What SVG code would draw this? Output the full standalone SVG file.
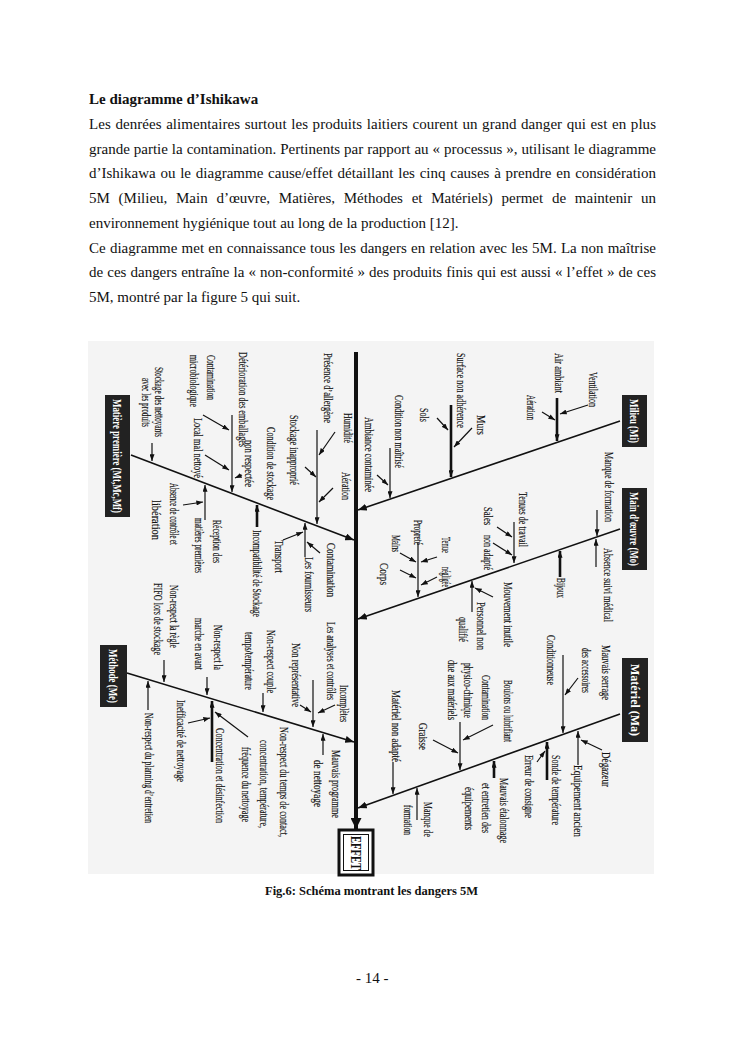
<svg xmlns="http://www.w3.org/2000/svg" width="745" height="1053" viewBox="0 0 745 1053">
<style>
.p{font-family:"Liberation Serif","Times New Roman",serif;font-size:15px;fill:#111}
.b{font-weight:bold}
.l{font-family:"Liberation Serif","Times New Roman",serif;font-size:11.5px;fill:#111;stroke:#111;stroke-width:0.15}
.bx{font-family:"Liberation Serif","Times New Roman",serif;font-size:12px;font-weight:bold;fill:#fff}
.c line,.c path{stroke:#111;fill:none}
.s{stroke-width:1.2}
.t{stroke-width:2.6}
.m{stroke-width:1.6}
</style>
<defs>
<marker id="a" viewBox="0 0 8 6" refX="8" refY="3" markerWidth="7" markerHeight="5" markerUnits="userSpaceOnUse" orient="auto"><path d="M0,0L8,3L0,6z" fill="#111"/></marker>
<marker id="A" viewBox="0 0 10 8" refX="10" refY="4" markerWidth="9" markerHeight="7" markerUnits="userSpaceOnUse" orient="auto"><path d="M0,0L10,4L0,8z" fill="#111"/></marker>
<marker id="S" viewBox="0 0 10 10" refX="10" refY="5" markerWidth="11" markerHeight="11" markerUnits="userSpaceOnUse" orient="auto"><path d="M0,0L10,5L0,10z" fill="#111"/></marker>
</defs>
<rect width="745" height="1053" fill="#fff"/>

<g id="text-body">
<text class="p b" x="89" y="104">Le diagramme d’Ishikawa</text>
<text class="p" x="89" y="128.75" word-spacing="0.78" textLength="567" lengthAdjust="spacing">Les denrées alimentaires surtout les produits laitiers courent un grand danger qui est en plus</text>
<text class="p" x="89" y="153.5" word-spacing="0.2" textLength="567" lengthAdjust="spacing">grande partie la contamination. Pertinents par rapport au « processus », utilisant le diagramme</text>
<text class="p" x="89" y="178.25" word-spacing="1" textLength="567" lengthAdjust="spacing">d’Ishikawa ou le diagramme cause/effet détaillant les cinq causes à prendre en considération</text>
<text class="p" x="89" y="203" word-spacing="5" textLength="567" lengthAdjust="spacing">5M (Milieu, Main d’œuvre, Matières, Méthodes et Matériels) permet de maintenir un</text>
<text class="p" x="89" y="227.75">environnement hygiénique tout au long de la production [12].</text>
<text class="p" x="89" y="252.5" word-spacing="0.47" textLength="567" lengthAdjust="spacing">Ce diagramme met en connaissance tous les dangers en relation avec les 5M. La non maîtrise</text>
<text class="p" x="89" y="277.25" word-spacing="0.3" textLength="567" lengthAdjust="spacing">de ces dangers entraîne la « non-conformité » des produits finis qui est aussi « l’effet » de ces</text>
<text class="p" x="89" y="302">5M, montré par la figure 5 qui suit.</text>
</g>

<rect id="figure-bg" x="88" y="341" width="566" height="533" fill="#f4f4f4"/>

<g id="connectors" class="c">
<line x1="356" y1="352" x2="356" y2="829" stroke-width="4" marker-end="url(#S)"/>
<line class="m" x1="620" y1="421" x2="358" y2="510" marker-end="url(#A)"/>
<line class="m" x1="620" y1="529" x2="358" y2="619" marker-end="url(#A)"/>
<line class="m" x1="620" y1="714" x2="358" y2="808" marker-end="url(#A)"/>
<line class="m" x1="131" y1="455" x2="354" y2="540" marker-end="url(#A)"/>
<line class="m" x1="127" y1="673" x2="354" y2="742" marker-end="url(#A)"/>
<!-- Milieu -->
<line class="t" x1="557" y1="398" x2="557" y2="441" marker-end="url(#a)"/>
<line class="t" x1="451" y1="405" x2="451" y2="477" marker-end="url(#a)"/>
<line class="s" x1="390" y1="448" x2="390" y2="498" marker-end="url(#a)"/>
<line class="s" x1="588" y1="405" x2="560" y2="414" marker-end="url(#a)"/>
<line class="s" x1="542" y1="412" x2="555" y2="420" marker-end="url(#a)"/>
<line class="s" x1="437" y1="418" x2="448" y2="430" marker-end="url(#a)"/>
<line class="s" x1="472" y1="428" x2="454" y2="447" marker-end="url(#a)"/>
<line class="s" x1="377" y1="475" x2="388" y2="485" marker-end="url(#a)"/>
<!-- Main d'oeuvre -->
<line class="s" x1="597" y1="510" x2="597" y2="536" marker-end="url(#a)"/>
<line class="s" x1="596" y1="567" x2="596" y2="539" marker-end="url(#a)"/>
<line class="t" x1="560" y1="577" x2="560" y2="551" marker-end="url(#a)"/>
<line class="s" x1="514" y1="522" x2="514" y2="563" marker-end="url(#a)"/>
<line class="s" x1="418" y1="543" x2="418" y2="597" marker-end="url(#a)"/>
<line class="s" x1="472" y1="612" x2="472" y2="581" marker-end="url(#a)"/>
<line class="s" x1="497" y1="527" x2="512" y2="537" marker-end="url(#a)"/>
<line class="s" x1="493" y1="543" x2="512" y2="555" marker-end="url(#a)"/>
<line class="s" x1="400" y1="553" x2="416" y2="562" marker-end="url(#a)"/>
<line class="s" x1="400" y1="570" x2="416" y2="578" marker-end="url(#a)"/>
<line class="s" x1="437" y1="557" x2="421" y2="562" marker-end="url(#a)"/>
<line class="s" x1="437" y1="577" x2="421" y2="585" marker-end="url(#a)"/>
<line class="s" x1="493" y1="597" x2="475" y2="588" marker-end="url(#a)"/>
<!-- Materiel -->
<line class="s" x1="563" y1="655" x2="563" y2="733" marker-end="url(#a)"/>
<line class="s" x1="460" y1="722" x2="460" y2="770" marker-end="url(#a)"/>
<line class="s" x1="393" y1="762" x2="393" y2="794" marker-end="url(#a)"/>
<line class="s" x1="417" y1="820" x2="417" y2="788" marker-end="url(#a)"/>
<line class="t" x1="494" y1="778" x2="494" y2="761" marker-end="url(#a)"/>
<line class="t" x1="547" y1="780" x2="547" y2="742" marker-end="url(#a)"/>
<line class="s" x1="578" y1="765" x2="578" y2="731" marker-end="url(#a)"/>
<line class="s" x1="578" y1="678" x2="565" y2="695" marker-end="url(#a)"/>
<line class="s" x1="493" y1="725" x2="463" y2="740" marker-end="url(#a)"/>
<line class="s" x1="433" y1="740" x2="458" y2="753" marker-end="url(#a)"/>
<line class="s" x1="537" y1="762" x2="545" y2="751" marker-end="url(#a)"/>
<line class="s" x1="602" y1="750" x2="581" y2="740" marker-end="url(#a)"/>
<!-- Matiere premiere -->
<line class="s" x1="232" y1="415" x2="232" y2="492" marker-end="url(#a)"/>
<line class="s" x1="152" y1="443" x2="152" y2="461" marker-end="url(#a)"/>
<line class="s" x1="317" y1="430" x2="317" y2="524" marker-end="url(#a)"/>
<line class="s" x1="205" y1="520" x2="205" y2="485" marker-end="url(#a)"/>
<line class="t" x1="257" y1="527" x2="257" y2="505" marker-end="url(#a)"/>
<line class="s" x1="305" y1="557" x2="305" y2="523" marker-end="url(#a)"/>
<line class="s" x1="203" y1="415" x2="229" y2="430" marker-end="url(#a)"/>
<line class="s" x1="205" y1="455" x2="229" y2="470" marker-end="url(#a)"/>
<line class="s" x1="242" y1="475" x2="235" y2="478" marker-end="url(#a)"/>
<line class="s" x1="335" y1="432" x2="319" y2="455" marker-end="url(#a)"/>
<line class="s" x1="333" y1="488" x2="319" y2="502" marker-end="url(#a)"/>
<line class="s" x1="305" y1="467" x2="316" y2="477" marker-end="url(#a)"/>
<line class="s" x1="183" y1="505" x2="203" y2="502" marker-end="url(#a)"/>
<line class="s" x1="283" y1="540" x2="303" y2="532" marker-end="url(#a)"/>
<line class="s" x1="320" y1="553" x2="307" y2="542" marker-end="url(#a)"/>
<!-- Methode -->
<line class="s" x1="263" y1="693" x2="263" y2="712" marker-end="url(#a)"/>
<line class="s" x1="207" y1="677" x2="207" y2="695" marker-end="url(#a)"/>
<line class="s" x1="164" y1="660" x2="164" y2="682" marker-end="url(#a)"/>
<line class="s" x1="313" y1="680" x2="313" y2="727" marker-end="url(#a)"/>
<line class="s" x1="148" y1="710" x2="148" y2="681" marker-end="url(#a)"/>
<line class="t" x1="212" y1="762" x2="212" y2="701" marker-end="url(#a)"/>
<line class="s" x1="323" y1="755" x2="323" y2="734" marker-end="url(#a)"/>
<line class="s" x1="335" y1="705" x2="318" y2="713" marker-end="url(#a)"/>
<line class="s" x1="300" y1="705" x2="311" y2="712" marker-end="url(#a)"/>
<line class="s" x1="188" y1="723" x2="210" y2="718" marker-end="url(#a)"/>
<line class="s" x1="248" y1="737" x2="215" y2="712" marker-end="url(#a)"/>
</g>

<g id="effet">
<rect x="339" y="830" width="34" height="45" fill="#fff" stroke="#111" stroke-width="3"/>
<rect x="343.5" y="834.5" width="25" height="36" fill="none" stroke="#111" stroke-width="1"/>
<text class="p b" transform="translate(351,836) rotate(90)" textLength="34" lengthAdjust="spacingAndGlyphs">EFFET</text>
</g>

<g id="cat-milieu"><rect x="622" y="395" width="25" height="52" fill="#222"/><text class="bx" transform="translate(630,399) rotate(90)" textLength="44" lengthAdjust="spacingAndGlyphs">Milieu (Mi)</text></g>
<g id="cat-main-oeuvre"><rect x="622" y="488" width="25" height="82" fill="#222"/><text class="bx" transform="translate(630,492) rotate(90)" textLength="74" lengthAdjust="spacingAndGlyphs">Main d’œuvre (Mo)</text></g>
<g id="cat-materiel"><rect x="622" y="658" width="26" height="84" fill="#222"/><text class="bx" transform="translate(630.5,664) rotate(90)" textLength="72" lengthAdjust="spacingAndGlyphs">Matériel (Ma)</text></g>
<g id="cat-matiere"><rect x="105" y="395" width="25" height="122" fill="#222"/><text class="bx" transform="translate(113,399) rotate(90)" textLength="114" lengthAdjust="spacingAndGlyphs">Matière première (Mt,Mc,Mf)</text></g>
<g id="cat-methode"><rect x="100" y="645" width="27" height="62" fill="#222"/><text class="bx" transform="translate(109,649) rotate(90)" textLength="54" lengthAdjust="spacingAndGlyphs">Méthode (Me)</text></g>

<g id="causes-milieu">
<g id="mi-ventilation"><text class="l" transform="translate(588.5,372) rotate(90)" textLength="35" lengthAdjust="spacingAndGlyphs">Ventilation</text></g>
<g id="mi-air"><text class="l" transform="translate(554.5,353) rotate(90)" textLength="40" lengthAdjust="spacingAndGlyphs">Air ambiant</text></g>
<g id="mi-aeration"><text class="l" transform="translate(526.5,395) rotate(90)" textLength="25" lengthAdjust="spacingAndGlyphs">Aération</text></g>
<g id="mi-surface"><text class="l" transform="translate(456.5,353) rotate(90)" textLength="75" lengthAdjust="spacingAndGlyphs">Surface non adhérence</text></g>
<g id="mi-sols"><text class="l" transform="translate(419.5,408) rotate(90)" textLength="14" lengthAdjust="spacingAndGlyphs">Sols</text></g>
<g id="mi-murs"><text class="l" transform="translate(476.5,415) rotate(90)" textLength="20" lengthAdjust="spacingAndGlyphs">Murs</text></g>
<g id="mi-condition"><text class="l" transform="translate(394.5,395) rotate(90)" textLength="73" lengthAdjust="spacingAndGlyphs">Condition non maîtrisé</text></g>
<g id="mi-ambiance"><text class="l" transform="translate(364.5,417) rotate(90)" textLength="75" lengthAdjust="spacingAndGlyphs">Ambiance contaminée</text></g>
</g>

<g id="causes-main-oeuvre">
<g id="mo-formation"><text class="l" transform="translate(604.5,452) rotate(90)" textLength="70" lengthAdjust="spacingAndGlyphs">Manque de formation</text></g>
<g id="mo-medical"><text class="l" transform="translate(603.5,548) rotate(90)" textLength="74" lengthAdjust="spacingAndGlyphs">Absence suivi médical</text></g>
<g id="mo-bijoux"><text class="l" transform="translate(556.5,578) rotate(90)" textLength="20" lengthAdjust="spacingAndGlyphs">Bijoux</text></g>
<g id="mo-tenues"><text class="l" transform="translate(518.5,492) rotate(90)" textLength="55" lengthAdjust="spacingAndGlyphs">Tenues de travail</text></g>
<g id="mo-sales"><text class="l" transform="translate(483.5,507) rotate(90)" textLength="18" lengthAdjust="spacingAndGlyphs">Sales</text></g>
<g id="mo-nonadapte"><text class="l" transform="translate(483.5,535) rotate(90)" textLength="35" lengthAdjust="spacingAndGlyphs">non adapté</text></g>
<g id="mo-proprete"><text class="l" transform="translate(413.5,520) rotate(90)" textLength="25" lengthAdjust="spacingAndGlyphs">Propreté</text></g>
<g id="mo-mains"><text class="l" transform="translate(391.5,535) rotate(90)" textLength="17" lengthAdjust="spacingAndGlyphs">Mains</text></g>
<g id="mo-corps"><text class="l" transform="translate(379.5,563) rotate(90)" textLength="22" lengthAdjust="spacingAndGlyphs">Corps</text></g>
<g id="mo-tenue"><text class="l" transform="translate(441.5,537) rotate(90)" textLength="16" lengthAdjust="spacingAndGlyphs">Tenue</text></g>
<g id="mo-negligee"><text class="l" transform="translate(441.5,567) rotate(90)" textLength="20" lengthAdjust="spacingAndGlyphs">négligée</text></g>
<g id="mo-personnel"><text class="l" transform="translate(476.5,602) rotate(90)" textLength="48" lengthAdjust="spacingAndGlyphs">Personnel non</text><text class="l" transform="translate(458.5,617) rotate(90)" textLength="25" lengthAdjust="spacingAndGlyphs">qualifié</text></g>
<g id="mo-mouvement"><text class="l" transform="translate(503.5,582) rotate(90)" textLength="65" lengthAdjust="spacingAndGlyphs">Mouvement inutile</text></g>
</g>

<g id="causes-materiel">
<g id="ma-serrage"><text class="l" transform="translate(601.5,645) rotate(90)" textLength="55" lengthAdjust="spacingAndGlyphs">Mauvais serrage</text><text class="l" transform="translate(581.5,648) rotate(90)" textLength="45" lengthAdjust="spacingAndGlyphs">des accessoires</text></g>
<g id="ma-conditionneuse"><text class="l" transform="translate(546.5,635) rotate(90)" textLength="50" lengthAdjust="spacingAndGlyphs">Conditionneuse</text></g>
<g id="ma-boulons"><text class="l" transform="translate(503.5,680) rotate(90)" textLength="62" lengthAdjust="spacingAndGlyphs">Boulons ou lubrifiant</text></g>
<g id="ma-contamination"><text class="l" transform="translate(481.5,675) rotate(90)" textLength="45" lengthAdjust="spacingAndGlyphs">Contamination</text><text class="l" transform="translate(463.5,663) rotate(90)" textLength="55" lengthAdjust="spacingAndGlyphs">physico-chimique</text><text class="l" transform="translate(447.5,660) rotate(90)" textLength="60" lengthAdjust="spacingAndGlyphs">due aux matériels</text></g>
<g id="ma-graisse"><text class="l" transform="translate(418.5,723) rotate(90)" textLength="27" lengthAdjust="spacingAndGlyphs">Graisse</text></g>
<g id="ma-nonadapte"><text class="l" transform="translate(391.5,690) rotate(90)" textLength="72" lengthAdjust="spacingAndGlyphs">Matériel  non adapté</text></g>
<g id="ma-formation"><text class="l" transform="translate(423.5,802) rotate(90)" textLength="35" lengthAdjust="spacingAndGlyphs">Manque de</text><text class="l" transform="translate(403.5,805) rotate(90)" textLength="30" lengthAdjust="spacingAndGlyphs">formation</text></g>
<g id="ma-etalonnage"><text class="l" transform="translate(499.5,778) rotate(90)" textLength="65" lengthAdjust="spacingAndGlyphs">Mauvais étalonnage</text><text class="l" transform="translate(481.5,783) rotate(90)" textLength="50" lengthAdjust="spacingAndGlyphs">et entretien des</text><text class="l" transform="translate(464.5,787) rotate(90)" textLength="43" lengthAdjust="spacingAndGlyphs">équipements</text></g>
<g id="ma-sonde"><text class="l" transform="translate(551.5,755) rotate(90)" textLength="70" lengthAdjust="spacingAndGlyphs">Sonde de température</text></g>
<g id="ma-erreur"><text class="l" transform="translate(524.5,755) rotate(90)" textLength="63" lengthAdjust="spacingAndGlyphs">Erreur de  consigne</text></g>
<g id="ma-equipement"><text class="l" transform="translate(573.5,765) rotate(90)" textLength="72" lengthAdjust="spacingAndGlyphs">Equipement ancien</text></g>
<g id="ma-degazeur"><text class="l" transform="translate(601.5,752) rotate(90)" textLength="35" lengthAdjust="spacingAndGlyphs">Dégazeur</text></g>
</g>

<g id="causes-matiere">
<g id="mt-deterioration"><text class="l" transform="translate(238.5,352) rotate(90)" textLength="95" lengthAdjust="spacingAndGlyphs">Détérioration des emballages</text></g>
<g id="mt-contamination"><text class="l" transform="translate(206.5,355) rotate(90)" textLength="45" lengthAdjust="spacingAndGlyphs">Contamination</text><text class="l" transform="translate(189.5,355) rotate(90)" textLength="52" lengthAdjust="spacingAndGlyphs">microbiologique</text></g>
<g id="mt-local"><text class="l" transform="translate(193.5,418) rotate(90)" textLength="60" lengthAdjust="spacingAndGlyphs">Local mal nettoyé</text></g>
<g id="mt-condition"><text class="l" transform="translate(266.5,427) rotate(90)" textLength="73" lengthAdjust="spacingAndGlyphs">Condition de stockage</text><text class="l" transform="translate(244.5,440) rotate(90)" textLength="47" lengthAdjust="spacingAndGlyphs">non respectée</text></g>
<g id="mt-nettoyants"><text class="l" transform="translate(154.5,367) rotate(90)" textLength="70" lengthAdjust="spacingAndGlyphs">Stockage des nettoyants</text><text class="l" transform="translate(141.5,378) rotate(90)" textLength="49" lengthAdjust="spacingAndGlyphs">avec les produits</text></g>
<g id="mt-allergene"><text class="l" transform="translate(323.5,353) rotate(90)" textLength="70" lengthAdjust="spacingAndGlyphs">Présence d’allergène</text></g>
<g id="mt-humidite"><text class="l" transform="translate(343.5,413) rotate(90)" textLength="30" lengthAdjust="spacingAndGlyphs">Humidité</text></g>
<g id="mt-aeration"><text class="l" transform="translate(341.5,472) rotate(90)" textLength="28" lengthAdjust="spacingAndGlyphs">Aération</text></g>
<g id="mt-stockage"><text class="l" transform="translate(289.5,415) rotate(90)" textLength="70" lengthAdjust="spacingAndGlyphs">Stockage inapproprié</text></g>
<g id="mt-absence"><text class="l" transform="translate(169.5,483) rotate(90)" textLength="62" lengthAdjust="spacingAndGlyphs">Absence de contrôle et</text><text class="l" transform="translate(151.5,500) rotate(90)" textLength="40" lengthAdjust="spacingAndGlyphs">libération</text></g>
<g id="mt-reception"><text class="l" transform="translate(212.5,520) rotate(90)" textLength="43" lengthAdjust="spacingAndGlyphs">Réception des</text><text class="l" transform="translate(194.5,518) rotate(90)" textLength="55" lengthAdjust="spacingAndGlyphs">matières premières</text></g>
<g id="mt-incompat"><text class="l" transform="translate(252.5,530) rotate(90)" textLength="87" lengthAdjust="spacingAndGlyphs">Incompatibilité de Stockage</text></g>
<g id="mt-transport"><text class="l" transform="translate(274.5,540) rotate(90)" textLength="33" lengthAdjust="spacingAndGlyphs">Transport</text></g>
<g id="mt-contam2"><text class="l" transform="translate(326.5,543) rotate(90)" textLength="54" lengthAdjust="spacingAndGlyphs">Contamination</text></g>
<g id="mt-fournisseurs"><text class="l" transform="translate(304.5,557) rotate(90)" textLength="55" lengthAdjust="spacingAndGlyphs">Les fournisseurs</text></g>
</g>

<g id="causes-methode">
<g id="me-couple"><text class="l" transform="translate(266.5,630) rotate(90)" textLength="63" lengthAdjust="spacingAndGlyphs">Non-respect couple</text><text class="l" transform="translate(244.5,632) rotate(90)" textLength="58" lengthAdjust="spacingAndGlyphs">temps/température</text></g>
<g id="me-marche"><text class="l" transform="translate(213.5,625) rotate(90)" textLength="45" lengthAdjust="spacingAndGlyphs">Non-respect la</text><text class="l" transform="translate(194.5,618) rotate(90)" textLength="52" lengthAdjust="spacingAndGlyphs">marche en avant</text></g>
<g id="me-fifo"><text class="l" transform="translate(169.5,585) rotate(90)" textLength="63" lengthAdjust="spacingAndGlyphs">Non-respect la règle</text><text class="l" transform="translate(153.5,583) rotate(90)" textLength="72" lengthAdjust="spacingAndGlyphs">FIFO lors de stockage</text></g>
<g id="me-analyses"><text class="l" transform="translate(326.5,622) rotate(90)" textLength="78" lengthAdjust="spacingAndGlyphs">Les analyses et contrôles</text></g>
<g id="me-incompletes"><text class="l" transform="translate(339.5,685) rotate(90)" textLength="37" lengthAdjust="spacingAndGlyphs">Incomplètes</text></g>
<g id="me-nonrepr"><text class="l" transform="translate(291.5,643) rotate(90)" textLength="64" lengthAdjust="spacingAndGlyphs">Non représentative</text></g>
<g id="me-planning"><text class="l" transform="translate(144.5,713) rotate(90)" textLength="110" lengthAdjust="spacingAndGlyphs">Non-respect du planning d’entretien</text></g>
<g id="me-concentration"><text class="l" transform="translate(215.5,728) rotate(90)" textLength="95" lengthAdjust="spacingAndGlyphs">Concentration et désinfection</text></g>
<g id="me-inefficacite"><text class="l" transform="translate(176.5,700) rotate(90)" textLength="82" lengthAdjust="spacingAndGlyphs">Inefficacité de nettoyage</text></g>
<g id="me-temps"><text class="l" transform="translate(279.5,727) rotate(90)" textLength="110" lengthAdjust="spacingAndGlyphs">Non-respect du temps de contact,</text><text class="l" transform="translate(259.5,740) rotate(90)" textLength="88" lengthAdjust="spacingAndGlyphs">concentration, température,</text><text class="l" transform="translate(241.5,747) rotate(90)" textLength="75" lengthAdjust="spacingAndGlyphs">fréquence du nettoyage</text></g>
<g id="me-programme"><text class="l" transform="translate(331.5,750) rotate(90)" textLength="68" lengthAdjust="spacingAndGlyphs">Mauvais programme</text><text class="l" transform="translate(313.5,760) rotate(90)" textLength="47" lengthAdjust="spacingAndGlyphs">de nettoyage</text></g>
</g>

<g id="caption">
<text class="p b" x="265" y="895" style="font-size:12.5px" textLength="213" lengthAdjust="spacingAndGlyphs">Fig.6: Schéma montrant les dangers 5M</text>
</g>
<g id="page-number">
<text class="p" x="356" y="983">- 14 -</text>
</g>
</svg>
